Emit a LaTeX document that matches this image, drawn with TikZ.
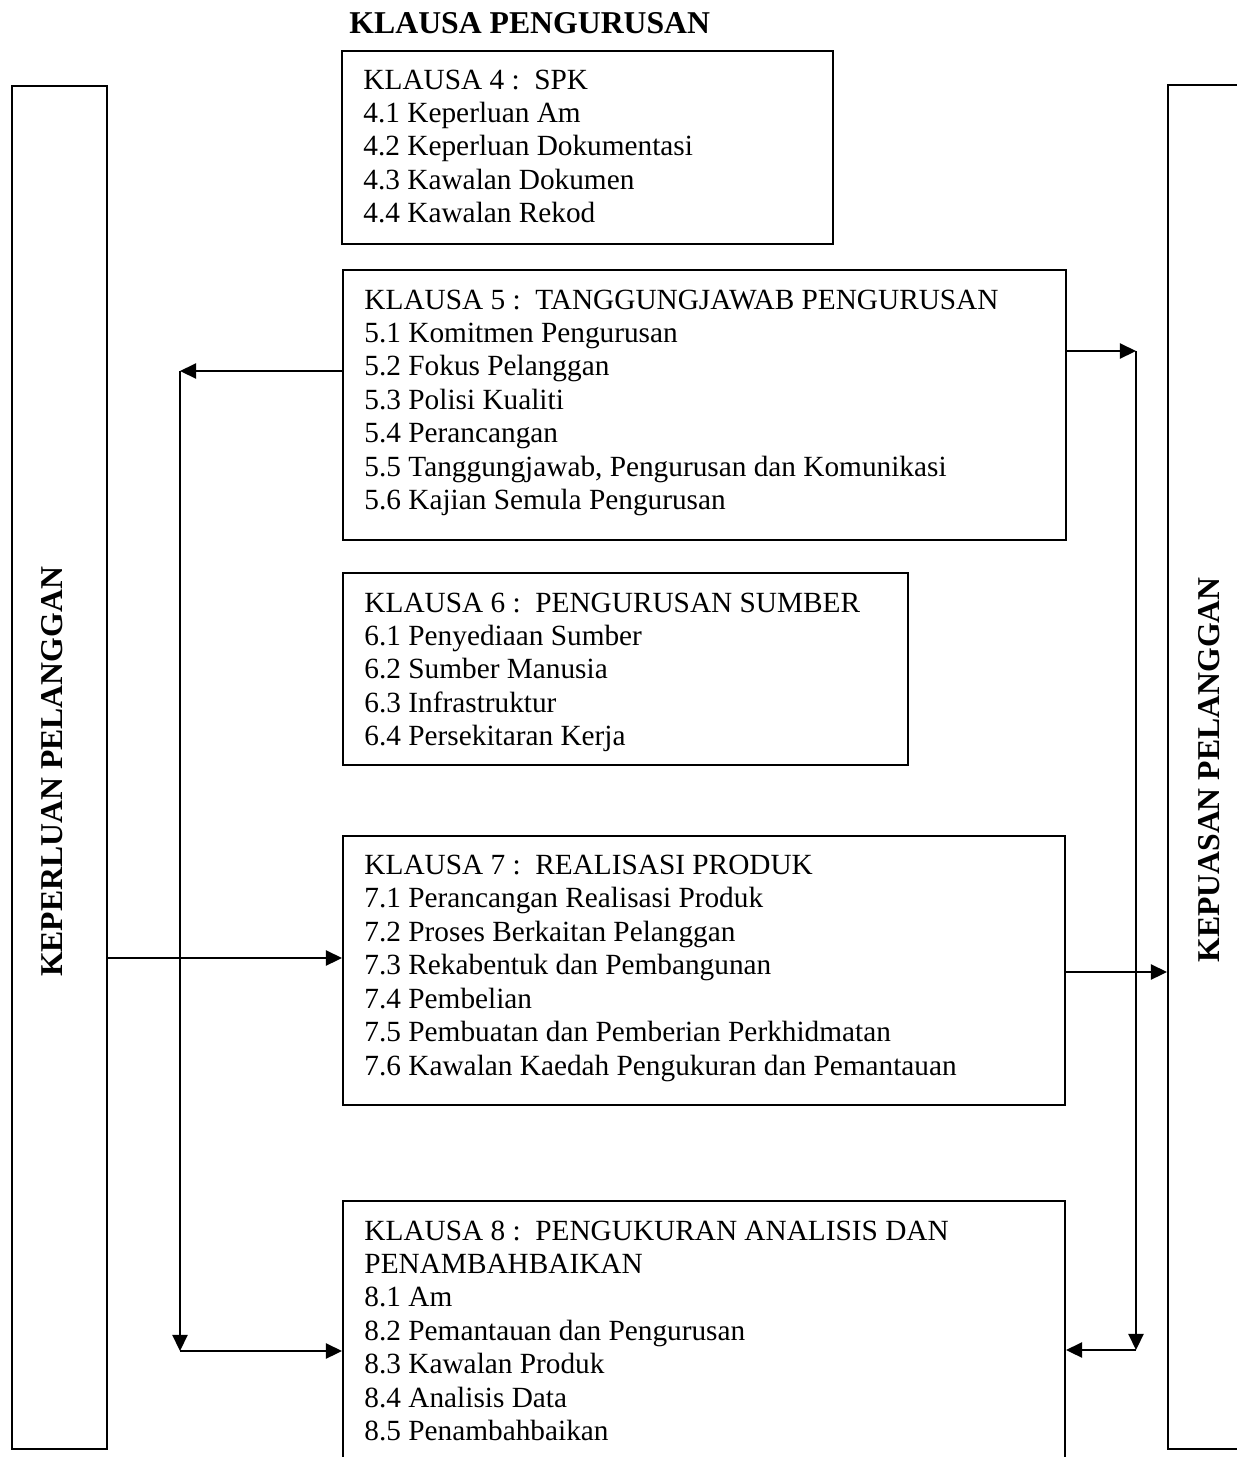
\documentclass[tikz,border=0pt]{standalone}
\usepackage{fontspec}
\setmainfont{Liberation Serif}
\usetikzlibrary{arrows.meta,fit}

\tikzset{
  box/.style={draw, line width=0.8pt, inner sep=0pt},
  item/.style={inner sep=0pt, anchor=base west, font=\fontsize{12}{14}\selectfont},
  heading/.style={inner sep=0pt, font=\fontsize{13}{15}\bfseries\selectfont},
  arr/.style={line width=0.8pt, -{Triangle[length=6.6pt,width=6.2pt]}},
}

\begin{document}
\begin{tikzpicture}[x=0.4096pt, y=-0.4096pt]
\useasboundingbox (0,0) rectangle (1237,1457);

% title
\node[heading, anchor=base west] (title) at (349,33) {KLAUSA PENGURUSAN};

% side columns
\node[box, fit={(12,86) (107,1449)}] (kp) {};
\node[box, fit={(1168,85) (1263,1449)}] (ks) {};
\node[heading, rotate=90, anchor=base] (kpt) at (62,772) {KEPERLUAN PELANGGAN};
\node[heading, rotate=90, anchor=base] (kst) at (1219,770) {KEPUASAN PELANGGAN};

% clause boxes
\node[box, fit={(342,51) (833,244)}] (k4) {};
\node[box, fit={(343,270) (1066,540)}] (k5) {};
\node[box, fit={(343,573) (908,765)}] (k6) {};
\node[box, fit={(343,836) (1065,1105)}] (k7) {};
\node[box, fit={(343,1201) (1065,1480)}] (k8) {};

% clause texts
\foreach \t [count=\i from 0] in {KLAUSA 4 :\ \ SPK, 4.1 Keperluan Am, 4.2 Keperluan Dokumentasi, 4.3 Kawalan Dokumen, 4.4 Kawalan Rekod}
  \node[item] (k4-\i) at (363, 89+\i*33.4) {\t};

\foreach \t [count=\i from 0] in {KLAUSA 5 :\ \ TANGGUNGJAWAB PENGURUSAN, 5.1 Komitmen Pengurusan, 5.2 Fokus Pelanggan, 5.3 Polisi Kualiti, 5.4 Perancangan, {5.5 Tanggungjawab, Pengurusan dan Komunikasi}, 5.6 Kajian Semula Pengurusan}
  \node[item] (k5-\i) at (364, 309+\i*33.4) {\t};

\foreach \t [count=\i from 0] in {KLAUSA 6 :\ \ PENGURUSAN SUMBER, 6.1 Penyediaan Sumber, 6.2 Sumber Manusia, 6.3 Infrastruktur, 6.4 Persekitaran Kerja}
  \node[item] (k6-\i) at (364, 612+\i*33.4) {\t};

\foreach \t [count=\i from 0] in {KLAUSA 7 :\ \ REALISASI PRODUK, 7.1 Perancangan Realisasi Produk, 7.2 Proses Berkaitan Pelanggan, 7.3 Rekabentuk dan Pembangunan, 7.4 Pembelian, 7.5 Pembuatan dan Pemberian Perkhidmatan, 7.6 Kawalan Kaedah Pengukuran dan Pemantauan}
  \node[item] (k7-\i) at (364, 874+\i*33.5) {\t};

\foreach \t [count=\i from 0] in {KLAUSA 8 :\ \ PENGUKURAN ANALISIS DAN, PENAMBAHBAIKAN, 8.1 Am, 8.2 Pemantauan dan Pengurusan, 8.3 Kawalan Produk, 8.4 Analisis Data, 8.5 Penambahbaikan}
  \node[item] (k8-\i) at (364, 1240+\i*33.4) {\t};

% junction points of the feedback loops
\coordinate (jl1) at (180,371);
\coordinate (jl2) at (180,1351);
\coordinate (jr1) at (1136,351);
\coordinate (jr2) at (1136,1350);
\coordinate (ya) at (0,958);
\coordinate (yb) at (0,972);

% left loop
\draw[arr] (k5.west |- jl1) -- (jl1);
\draw[arr] (jl1) -- (jl2);
\draw[arr] (jl2) -- (k8.west |- jl2);
% right loop
\draw[arr] (k5.east |- jr1) -- (jr1);
\draw[arr] (jr1) -- (jr2);
\draw[arr] (jr2) -- (k8.east |- jr2);
% main flow
\draw[arr] (kp.east |- ya) -- (k7.west |- ya);
\draw[arr] (k7.east |- yb) -- (ks.west |- yb);
\end{tikzpicture}
\end{document}
